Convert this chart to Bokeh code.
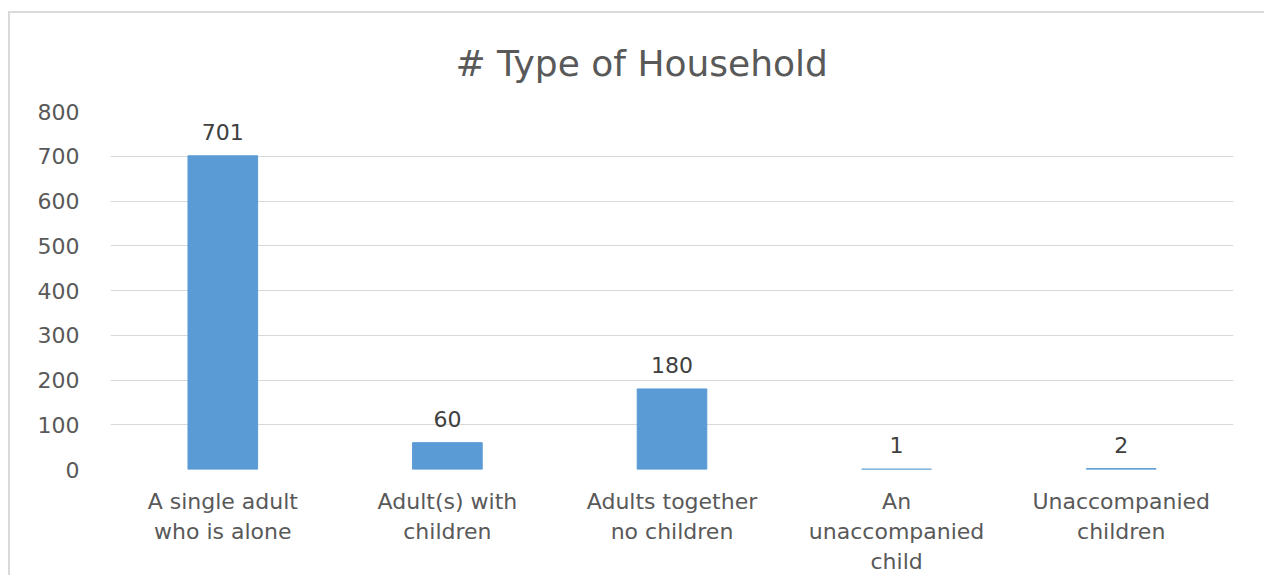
from bokeh.plotting import figure
from bokeh.models import ColumnDataSource, Range1d, FactorRange
from bokeh.core.properties import value
from bokeh.embed import file_html
from bokeh.resources import INLINE

categories = ["A single adult\nwho is alone", "Adult(s) with\nchildren",
              "Adults together\nno children", "An\nunaccompanied\nchild",
              "Unaccompanied\nchildren"]
counts = [701, 60, 180, 1, 2]
y_ticks = [0, 100, 200, 300, 400, 500, 600, 700, 800]
title_text = "# Type of Household"

FONT = "DejaVu Sans"

src = ColumnDataSource(dict(cat=categories, val=counts, lbl=[str(v) for v in counts]))

p = figure(x_range=FactorRange(*categories, range_padding=0), y_range=Range1d(0, 800),
           width=1256, height=564, output_backend="svg", toolbar_location=None,
           min_border_left=100, min_border_right=33, min_border_top=98, min_border_bottom=108)

p.vbar(x="cat", top="val", width=0.31, source=src, color="#5B9BD5")
p.text(x="cat", y="val", text="lbl", source=src, text_align="center", text_baseline="bottom",
       y_offset=-16, text_font=value(FONT), text_font_size="22px", text_color="#404040")

p.title.text = title_text
p.title.align = "left"
p.title.offset = 345
p.title.text_font = FONT
p.title.text_font_size = "36px"
p.title.text_font_style = "normal"
p.title.text_color = "#595959"
p.title.standoff = 55

p.outline_line_color = None
p.xgrid.grid_line_color = None
p.ygrid.grid_line_color = "#D9D9D9"
p.ygrid.grid_line_width = 1
p.yaxis.ticker = y_ticks

for ax in (p.xaxis[0], p.yaxis[0]):
    ax.axis_line_color = None
    ax.major_tick_line_color = None
    ax.minor_tick_line_color = None
    ax.major_label_text_font = FONT
    ax.major_label_text_font_size = "22px"
    ax.major_label_text_color = "#595959"

p.yaxis.major_label_standoff = 25
p.xaxis.major_label_standoff = 13
p.xaxis.major_label_text_line_height = 1.2
p.xaxis.major_label_text_align = "center"

p.styles = {"margin-left": "8px", "margin-top": "11px",
            "border-left": "2px solid #D9D9D9", "border-top": "2px solid #D9D9D9"}

open("out.html", "w").write(file_html(p, INLINE))
